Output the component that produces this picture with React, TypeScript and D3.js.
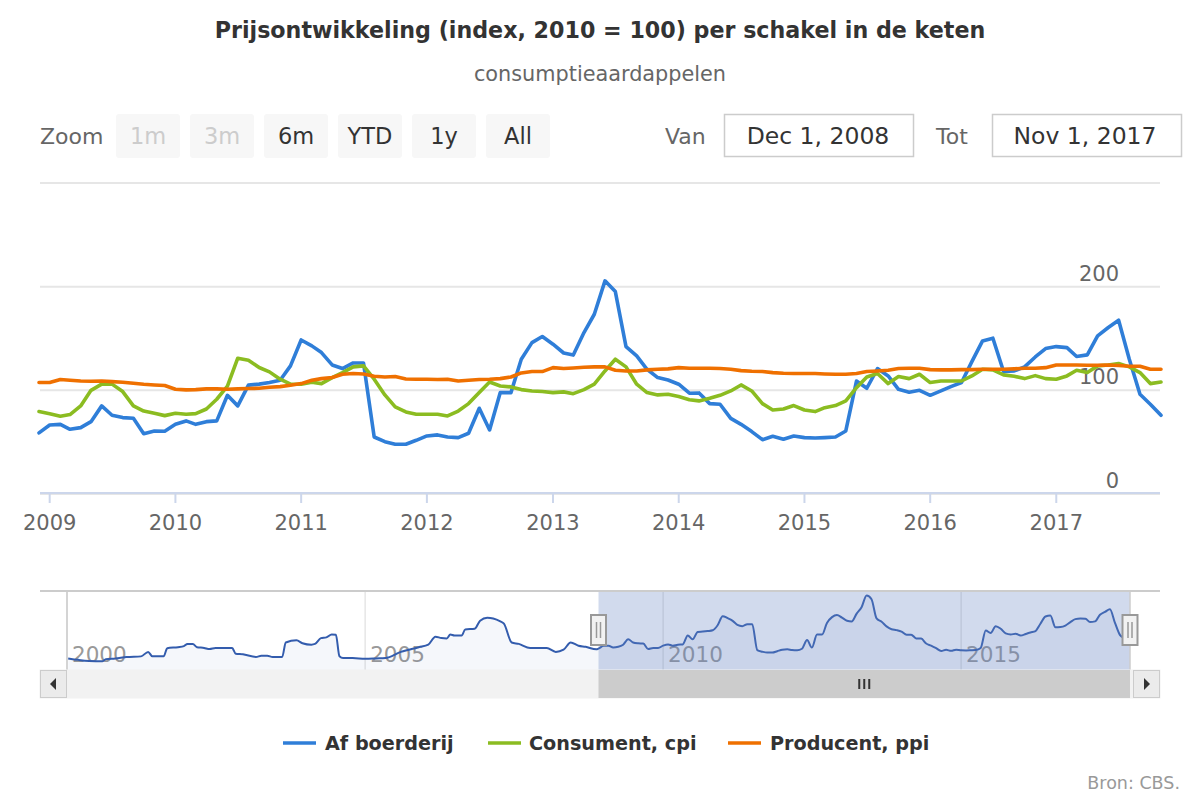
import React from "react";
import * as d3 from "d3";

// ---------- DATA ----------
const startMonth = "2008-12"; // first month in main view
const endMonth = "2017-11";

// Af boerderij (farm), monthly Dec 2008 .. Nov 2017
const farm = [
  59, 66.6, 67.2, 62.4, 64, 69.8, 85, 76, 73.7, 73, 58.2, 60.8, 60.5, 67.2, 70.5, 67.2, 69.8, 70.5, 95.2, 85,
  105, 106, 107.5, 109.7, 123.6, 148.6, 142.9, 136.4, 124.5, 121, 126.4, 126.4, 55, 50.5, 48, 48, 51.8, 56, 57, 55,
  54.4, 58.6, 82.7, 61.8, 97.8, 97.8, 130, 146, 151.9, 144.5, 136, 134, 155.7, 173.4, 205.6, 195.3, 142.2, 133.2, 120.3, 112.3,
  110, 105.9, 97.2, 97.5, 87.2, 86.6, 73, 67.2, 60.2, 52.4, 55.7, 52.8, 56, 54.4, 54, 54.4, 55, 60.8, 109, 102,
  121, 113.9, 101, 98.1, 100, 95.2, 99.4, 103.6, 107.5, 127.7, 147.7, 150.3, 118.1, 118.7, 122.6, 132.2, 140.3, 142.2, 141.2, 132.6,
  134.2, 152.5, 160.6, 167.6, 130, 96.2, 86.6, 75.9,
];

// Consument, cpi
const cpi = [
  79.5, 77.5, 75, 76.6, 85, 100, 106, 106, 98.8, 85, 80, 77.9, 75.6, 77.9, 76.9, 77.5, 82, 91.4, 104, 131,
  129, 122, 117.8, 110.7, 105.9, 105.9, 107.8, 106.5, 112.3, 117.1, 122.6, 123.6, 110.7, 95.6, 84, 79.2, 76.9, 76.9, 76.9, 75.3,
  80, 87.2, 98, 108, 104.2, 103.3, 100.7, 99.4, 98.8, 97.8, 98.5, 96.8, 100.7, 105.9, 118.7, 130, 122.6, 105.9, 97.8, 95.6,
  96.2, 94, 91, 89.8, 92.3, 95.2, 99.4, 105.2, 99.4, 87.2, 81, 82, 85.3, 81, 79.5, 83.3, 85.3, 89.8, 102.6, 112.9,
  116.2, 106.5, 113.3, 111.3, 115.5, 107.5, 109, 109, 109, 113.9, 120.3, 119.7, 114.9, 113.6, 111.3, 114.2, 111.3, 110.7, 113.9, 119.4,
  117.1, 123.6, 124.5, 125.8, 122.6, 117.1, 106.5, 108,
];

// Producent, ppi
const ppi = [
  107.5, 107.5, 110.4, 109.7, 109, 108.8, 109, 108.4, 107.8, 106.8, 105.9, 105.2, 104.6, 101, 100.4, 100.7, 101.4, 101.4, 101, 101.4,
  101.7, 102, 103, 103.6, 104.9, 106.5, 109.7, 111.3, 112.3, 115.5, 116.2, 115.8, 113.6, 112.9, 113.3, 111, 110.7, 110.7, 110.4, 110.7,
  109, 109.7, 110.4, 110.7, 111.3, 112.9, 116.8, 118.1, 118.1, 121.9, 121, 121.6, 122.3, 122.6, 122.6, 119.4, 118.7, 118.7, 119.7, 120.3,
  120.7, 121.9, 121.3, 121.3, 121.3, 121, 120.3, 119, 118.4, 118.1, 117.1, 116.5, 116.2, 116.2, 116.2, 115.8, 115.5, 115.5, 116.2, 118.1,
  118.7, 119.4, 121, 121.3, 121.3, 120, 119.7, 119.7, 120, 120, 120.3, 120.3, 120.3, 120.7, 121.3, 121.3, 121.9, 124.5, 124.5, 124.5,
  124.2, 124.2, 124.5, 123.9, 123.2, 123.2, 120.3, 120.3,
];

// Navigator history of Af boerderij before the main view (decimal year, value)
const navHistYears = [
  2000.02, 2000.19, 2000.37, 2000.59, 2000.65, 2000.81, 2001.0, 2001.24, 2001.36, 2001.43, 2001.62, 2001.68, 2001.86, 2001.96,
  2002.02, 2002.11, 2002.18, 2002.3, 2002.39, 2002.49, 2002.77, 2002.83, 2002.95, 2003.17, 2003.26, 2003.36, 2003.45, 2003.61,
  2003.67, 2003.85, 2003.95, 2004.1, 2004.16, 2004.26, 2004.35, 2004.44, 2004.51, 2004.57, 2004.63, 2004.79, 2005.0, 2005.19,
  2005.34, 2005.6, 2005.9, 2006.06, 2006.18, 2006.28, 2006.37, 2006.43, 2006.5, 2006.62, 2006.68, 2006.84, 2006.93, 2007.05,
  2007.15, 2007.27, 2007.33, 2007.46, 2007.58, 2007.77, 2008.05, 2008.2, 2008.33, 2008.45, 2008.58, 2008.7, 2008.88,
];
const navHistValues = [
  32, 28, 25, 24, 30, 32, 35.8, 37.6, 50, 37.6, 37.6, 60, 63, 66, 72, 72, 63, 61, 57.8, 60.6, 60.6, 45, 43.2, 36, 39.5, 39.5,
  36, 36, 76, 82, 74, 70, 72, 88, 90, 98, 97, 38, 33, 33, 31, 32, 33, 50, 63, 70, 92, 88, 87, 98, 95, 95, 112, 114, 136, 144,
  142, 134, 128, 76, 72, 60.6, 60.6, 50, 56, 76, 67, 64, 57,
];

const seriesNames = ["Af boerderij", "Consument, cpi", "Producent, ppi"];
const seriesColors = ["#2f7ed8", "#8bbc21", "#ef7000"];
const yTicks = [0, 100, 200, 300];
const zoomButtons = ["1m", "3m", "6m", "YTD", "1y", "All"];
const disabledButtons = ["1m", "3m"];

// ---------- helpers ----------
const parseMonth = d3.timeParse("%Y-%m");
const monthsFrom = (start: string, n: number) => {
  const s = parseMonth(start) as Date;
  return d3.range(n).map((i) => d3.timeMonth.offset(s, i));
};
const decYearToDate = (y: number) => {
  const yr = Math.floor(y);
  const s = new Date(yr, 0, 1).getTime();
  const e = new Date(yr + 1, 0, 1).getTime();
  return new Date(s + (y - yr) * (e - s));
};

const FONT = "'DejaVu Sans', sans-serif";

export default function App() {
  const dates = monthsFrom(startMonth, farm.length);
  const x0 = parseMonth(startMonth) as Date;
  const x1 = parseMonth(endMonth) as Date;

  // main
  const plotL = 39, plotR = 1161, plotT = 183, plotB = 494;
  const x = d3.scaleTime().domain([x0, x1]).range([plotL, plotR]);
  const y = d3.scaleLinear().domain([0, 300]).range([plotB, plotT]);
  const allSeries = [farm, cpi, ppi];
  const line = d3
    .line<[Date, number]>()
    .x((d) => x(d[0]))
    .y((d) => y(d[1]));

  const yearTicks = d3.timeYear.range(d3.timeYear.ceil(x0), x1);

  // navigator
  const navL = 67, navR = 1131, navT = 591, navB = 670;
  const navStart = new Date(2000, 0, 1);
  const xn = d3.scaleTime().domain([navStart, x1]).range([navL, navR - 1]);
  const yn = d3.scaleLinear().domain([0, 218]).range([navB, navT]);
  const navData: [Date, number][] = [
    ...navHistYears.map((yy, i) => [decYearToDate(yy), navHistValues[i]] as [Date, number]),
    ...dates.map((d, i) => [d, farm[i]] as [Date, number]),
  ];
  const navLine = d3
    .line<[Date, number]>()
    .x((d) => xn(d[0]))
    .y((d) => yn(d[1]))
    .curve(d3.curveMonotoneX);
  const navArea = d3
    .area<[Date, number]>()
    .x((d) => xn(d[0]))
    .y0(navB)
    .y1((d) => yn(d[1]))
    .curve(d3.curveMonotoneX);
  const navYears = [2000, 2005, 2010, 2015].map((yy) => new Date(yy, 0, 1));
  const selL = xn(x0);
  const selR = xn(x1);

  const btnX0 = 116;
  const legendItems = [
    { x: 283, tx: 325 },
    { x: 488, tx: 529 },
    { x: 728, tx: 770 },
  ];

  return (
    <svg width={1200} height={800} style={{ position: "absolute", left: 0, top: 0, fontFamily: FONT }}>
      <rect width={1200} height={800} fill="#ffffff" />
      {/* title */}
      <text x={600} y={38} textAnchor="middle" fontSize={22.2} fontWeight="bold" fill="#333333">
        Prijsontwikkeling (index, 2010 = 100) per schakel in de keten
      </text>
      <text x={600} y={81} textAnchor="middle" fontSize={20.8} fill="#666666">
        consumptieaardappelen
      </text>

      {/* range selector */}
      <text x={40} y={144} fontSize={22} fill="#666666">Zoom</text>
      {zoomButtons.map((b, i) => {
        const bx = btnX0 + i * 74;
        const dis = disabledButtons.includes(b);
        return (
          <g key={b}>
            <rect x={bx} y={114} width={64} height={44} rx={3} fill="#f7f7f7" />
            <text x={bx + 32} y={144} textAnchor="middle" fontSize={22.5} fill={dis ? "#cccccc" : "#333333"}>
              {b}
            </text>
          </g>
        );
      })}
      <text x={665} y={144} fontSize={22} fill="#666666">Van</text>
      <rect x={724.5} y={114.5} width={189} height={42} fill="#ffffff" stroke="#cccccc" strokeWidth={1.5} />
      <text x={818} y={144} textAnchor="middle" fontSize={23.5} fill="#333333">Dec 1, 2008</text>
      <text x={936} y={144} fontSize={22} fill="#666666">Tot</text>
      <rect x={992.5} y={114.5} width={189} height={42} fill="#ffffff" stroke="#cccccc" strokeWidth={1.5} />
      <text x={1085} y={144} textAnchor="middle" fontSize={23.5} fill="#333333">Nov 1, 2017</text>

      {/* gridlines */}
      {yTicks.map((t) => (
        <line key={t} x1={40} x2={1160} y1={y(t)} y2={y(t)} stroke="#e6e6e6" strokeWidth={2} />
      ))}
      {yTicks
        .filter((t) => t < 300)
        .map((t) => (
          <text key={t} x={1119} y={y(t) - 6} textAnchor="end" fontSize={21} fill="#666666">
            {t}
          </text>
        ))}

      {/* series */}
      {allSeries.map((s, si) => (
        <path
          key={si}
          d={line(dates.map((d, i) => [d, s[i]] as [Date, number])) || ""}
          fill="none"
          stroke={seriesColors[si]}
          strokeWidth={3.6}
          strokeLinejoin="round"
          strokeLinecap="round"
        />
      ))}

      {/* x axis */}
      <line x1={40} x2={1160} y1={493} y2={493} stroke="#ccd6eb" strokeWidth={2} />
      {yearTicks.map((d) => (
        <g key={d.getFullYear()}>
          <line x1={x(d)} x2={x(d)} y1={493} y2={503} stroke="#ccd6eb" strokeWidth={2} />
          <text x={x(d)} y={530} textAnchor="middle" fontSize={21} fill="#666666">
            {d3.timeFormat("%Y")(d)}
          </text>
        </g>
      ))}

      {/* navigator */}
      <line x1={40} x2={1160} y1={591} y2={591} stroke="#cccccc" strokeWidth={2} />
      {navYears.map((d) => (
        <g key={d.getFullYear()}>
          <line x1={xn(d)} x2={xn(d)} y1={592} y2={navB} stroke="#e6e6e6" strokeWidth={1.5} />
          <text x={xn(d) + 5} y={662} fontSize={21.5} fill="#999999">
            {d.getFullYear()}
          </text>
        </g>
      ))}
      <path d={navArea(navData) || ""} fill="#335cad" fillOpacity={0.05} />
      <path d={navLine(navData) || ""} fill="none" stroke="#335cad" strokeWidth={2} />
      <rect x={selL} y={592} width={selR - selL} height={navB - 592} fill="#6685c2" fillOpacity={0.3} />
      <line x1={navL} x2={navL} y1={592} y2={navB} stroke="#cccccc" strokeWidth={1.5} />
      <line x1={selR} x2={selR} y1={592} y2={navB} stroke="#cccccc" strokeWidth={1.5} />

      {/* scrollbar */}
      <rect x={40} y={670} width={1120} height={28} fill="#f2f2f2" stroke="#f2f2f2" />
      <rect x={selL} y={670} width={selR - selL} height={28} fill="#cccccc" />
      <g stroke="#333333" strokeWidth={2}>
        {[-5, 0, 5].map((o) => (
          <line key={o} x1={(selL + selR) / 2 + o} x2={(selL + selR) / 2 + o} y1={679} y2={689} />
        ))}
      </g>
      <rect x={40.5} y={670.5} width={26} height={27} fill="#ebebeb" stroke="#cccccc" strokeWidth={1} />
      <path d="M56,678 L56,690 L50,684 Z" fill="#333333" />
      <rect x={1133.5} y={670.5} width={26} height={27} fill="#ebebeb" stroke="#cccccc" strokeWidth={1} />
      <path d="M1144,678 L1144,690 L1150,684 Z" fill="#333333" />

      {/* handles */}
      {[selL, selR].map((hx, i) => (
        <g key={i}>
          <rect x={hx - 7.5} y={615} width={15} height={30} fill="#f2f2f2" stroke="#999999" strokeWidth={2} />
          <line x1={hx - 2} x2={hx - 2} y1={622} y2={638} stroke="#999999" strokeWidth={1.5} />
          <line x1={hx + 2} x2={hx + 2} y1={622} y2={638} stroke="#999999" strokeWidth={1.5} />
        </g>
      ))}

      {/* legend */}
      {legendItems.map((li, i) => (
        <g key={i}>
          <line x1={li.x} x2={li.x + 33} y1={743} y2={743} stroke={seriesColors[i]} strokeWidth={3.5} />
          <text x={li.tx} y={750} fontSize={19.2} fontWeight="bold" fill="#333333">
            {seriesNames[i]}
          </text>
        </g>
      ))}

      <text x={1180} y={789} textAnchor="end" fontSize={17.5} fill="#999999">Bron: CBS.</text>
    </svg>
  );
}
